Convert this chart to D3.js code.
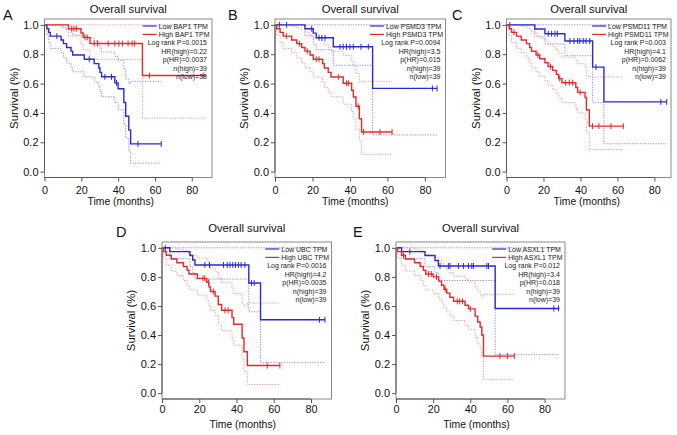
<!DOCTYPE html>
<html><head><meta charset="utf-8">
<script src="https://cdn.jsdelivr.net/npm/d3@7"></script>
<style>body{margin:0;background:#fff} svg{display:block} text{font-family:"Liberation Sans",Arial,Helvetica,sans-serif}</style>
</head><body><svg id="c" width="677" height="435"></svg>
<script>
// ---------- DATA ----------
const panelLetters = ["A","B","C","D","E"];
const geneNames = ["BAP1","PSMD3","PSMD11","UBC","ASXL1"];
const logRankP = ["0.0015","0.0094","0.003","0.0016","0.012"];
const hrHigh = ["0.22","3.5","4.1","4.2","3.4"];
const pHR = ["0.0037","0.015","0.0062","0.0035","0.018"];
const nHigh = [39,39,39,39,39];
const nLow = [39,39,39,39,39];
const xTicks = [0,20,40,60,80];
const yTicks = [0,0.2,0.4,0.6,0.8,1.0];

// step rows: [time, survival, lower CI, upper CI]
const lowBAP1 = [[1.3,0.974,0.93,1],[2.3,0.949,0.88,1],[3.1,0.923,0.84,1],[9,0.897,0.81,0.99],[10.3,0.872,0.775,0.98],[12,0.846,0.74,0.965],[14.4,0.821,0.71,0.95],[15.3,0.795,0.68,0.93],[21.6,0.766,0.645,0.91],[27,0.736,0.61,0.89],[29.5,0.706,0.575,0.865],[30.1,0.676,0.545,0.84],[31,0.646,0.51,0.815],[38.2,0.605,0.47,0.785],[40,0.565,0.42,0.755],[43.1,0.471,0.32,0.695],[44.1,0.377,0.23,0.63],[45.8,0.283,0.14,0.6],[46.8,0.189,0.058,0.615]];
const lowBAP1Censor = [6.7,24.3,32.8,36.4,39.1,50.8,63.4];
const lowBAP1End = 63.4;
const highBAP1 = [[13,0.974,0.925,1],[19.8,0.945,0.87,1],[21,0.915,0.83,1],[24.7,0.873,0.765,1],[53.2,0.655,0.365,1]];
const highBAP1Censor = [14.8,16,17.3,22,23.2,27,28.8,34.6,38.2,40.4,42.3,45.4,47.6,49,57,86.5];
const highBAP1End = 87.7;

const lowPSMD3 = [[16,0.974,0.925,1],[20.4,0.944,0.87,1],[22,0.912,0.83,1],[31.1,0.851,0.725,1],[52.1,0.567,0.25,1]];
const lowPSMD3Censor = [2.3,6.2,19.6,23.5,25,26.7,34.7,36.4,38.2,40,41.8,45.9,49.8,84,86.5];
const lowPSMD3End = 86.5;
const highPSMD3 = [[0.9,0.974,0.93,1],[2.7,0.949,0.88,1],[4.4,0.923,0.84,1],[8.9,0.897,0.81,0.99],[11.6,0.872,0.775,0.98],[14.2,0.846,0.74,0.965],[16,0.821,0.71,0.95],[18.7,0.795,0.68,0.93],[20.4,0.766,0.645,0.91],[25.4,0.736,0.61,0.89],[26.3,0.706,0.575,0.865],[28.4,0.676,0.54,0.845],[29.9,0.645,0.51,0.82],[36.4,0.602,0.46,0.79],[40.9,0.555,0.41,0.755],[41.8,0.509,0.36,0.72],[43.2,0.445,0.29,0.67],[45,0.36,0.21,0.61],[46.2,0.27,0.118,0.615]];
const highPSMD3Censor = [6,13,17.2,22,23.5,33.8,38.2,39.2,44.4,47.3,56,62.5];
const highPSMD3End = 62.5;

const lowPSMD11 = [[15.3,0.972,0.92,1],[20.8,0.94,0.87,1],[31.6,0.89,0.79,1],[46.6,0.712,0.47,1],[52.7,0.475,0.19,1]];
const lowPSMD11Censor = [1.8,22.6,24.4,26.2,27.5,34.3,36.5,38.5,39.7,41.5,43,45,48.4,83.5,86.7];
const lowPSMD11End = 86.7;
const highPSMD11 = [[1.4,0.974,0.93,1],[2.7,0.949,0.88,1],[5.4,0.923,0.84,1],[8,0.897,0.81,0.99],[10.8,0.872,0.775,0.98],[12.5,0.846,0.74,0.965],[13.5,0.82,0.71,0.95],[16,0.795,0.68,0.93],[18,0.769,0.65,0.91],[20.8,0.742,0.62,0.89],[22.5,0.716,0.59,0.87],[25,0.69,0.56,0.85],[27,0.662,0.53,0.83],[28.2,0.634,0.5,0.805],[30,0.606,0.47,0.78],[37.5,0.573,0.43,0.76],[38.5,0.54,0.4,0.735],[42.5,0.505,0.36,0.71],[43.2,0.42,0.27,0.65],[44.8,0.31,0.15,0.645]];
const highPSMD11Censor = [4,17,23.8,28.8,32,34,35.8,39.8,46.5,50,56.5,63.2];
const highPSMD11End = 63.2;

const lowUBC = [[4.2,0.974,0.925,1],[15,0.947,0.87,1],[16.5,0.916,0.83,1],[17.7,0.882,0.785,1],[46.6,0.758,0.56,1],[52.9,0.505,0.21,1]];
const lowUBCCensor = [1.8,23,25.5,33,35,36.5,38,39.5,41,42.5,44.5,48,49.5,84.5,87.5];
const lowUBCEnd = 87.5;
const highUBC = [[0.9,0.974,0.93,1],[2.3,0.949,0.88,1],[5,0.923,0.84,1],[8,0.897,0.81,0.99],[11.5,0.871,0.775,0.98],[13.5,0.846,0.74,0.965],[14.5,0.82,0.71,0.95],[19,0.79,0.675,0.93],[24,0.762,0.64,0.905],[25.2,0.731,0.605,0.885],[26,0.7,0.57,0.86],[28.5,0.668,0.535,0.835],[30.2,0.61,0.47,0.79],[32,0.57,0.43,0.76],[37.6,0.52,0.375,0.72],[38.5,0.474,0.33,0.685],[43,0.38,0.235,0.62],[44,0.285,0.15,0.6],[45.8,0.19,0.06,0.62]];
const highUBCCensor = [22,23,25,27.5,33.8,35.5,56.5,63.3];
const highUBCEnd = 63.3;

const lowASXL1 = [[3,0.974,0.925,1],[15.6,0.947,0.87,1],[21,0.913,0.83,1],[22.8,0.875,0.775,1],[53.4,0.583,0.265,1]];
const lowASXL1Censor = [7.5,23.7,28.2,29.1,33.6,36.3,39,40.8,41.7,48.9,49.8,85,87.5];
const lowASXL1End = 88;
const highASXL1 = [[0.9,0.974,0.93,1],[3,0.949,0.88,1],[5,0.923,0.84,1],[10,0.897,0.81,0.99],[13,0.871,0.775,0.98],[14.7,0.846,0.74,0.965],[16,0.82,0.71,0.95],[20,0.8,0.685,0.935],[23,0.771,0.65,0.915],[24.5,0.743,0.62,0.89],[25.8,0.715,0.59,0.87],[27.3,0.688,0.56,0.85],[29,0.66,0.53,0.83],[31,0.632,0.5,0.805],[37.2,0.605,0.465,0.785],[39,0.58,0.44,0.765],[42.6,0.53,0.385,0.73],[44,0.49,0.34,0.7],[45.3,0.455,0.305,0.68],[46.2,0.4,0.25,0.66],[47.1,0.255,0.095,0.68]];
const highASXL1Censor = [4,17.5,19,21.8,26.5,33,34.3,35.8,40,56,60,63.7];
const highASXL1End = 63.7;

const lowGroups = [[lowBAP1,lowBAP1Censor,lowBAP1End],[lowPSMD3,lowPSMD3Censor,lowPSMD3End],[lowPSMD11,lowPSMD11Censor,lowPSMD11End],[lowUBC,lowUBCCensor,lowUBCEnd],[lowASXL1,lowASXL1Censor,lowASXL1End]];
const highGroups = [[highBAP1,highBAP1Censor,highBAP1End],[highPSMD3,highPSMD3Censor,highPSMD3End],[highPSMD11,highPSMD11Censor,highPSMD11End],[highUBC,highUBCCensor,highUBCEnd],[highASXL1,highASXL1Censor,highASXL1End]];

// ---------- LAYOUT ----------
const layout = [
  {letter:[3,20],   box:[44.5,19,212,177.5], xMax:91, titleDy:-6.5, tickPad:4.5, xlabDy:27.7, xlabDx:-7.5},
  {letter:[228,20], box:[275,19,445.5,177.5], xMax:91, titleDy:-6.5, tickPad:4.5, xlabDy:27.7, xlabDx:-5},
  {letter:[452,20], box:[506.5,19,671,177.5], xMax:89, titleDy:-6.5, tickPad:4.5, xlabDy:27.7, xlabDx:-2},
  {letter:[116,237],box:[162,242,331.5,399], xMax:91, titleDy:-10, tickPad:2.8, xlabDy:28.7, xlabDx:-4},
  {letter:[353,237],box:[396,242,565,399], xMax:91, titleDy:-10, tickPad:2.8, xlabDy:28.7, xlabDx:-4}
];
const BLUE = "#2a2ad2", RED = "#e22b2b", BLUE_CI = "#9090ea", RED_CI = "#f39a9a";
const svg = d3.select("#c");

layout.forEach((L, i) => {
  const [l, t, r, b] = L.box;
  const x = d3.scaleLinear().domain([0, L.xMax]).range([l, r]);
  const y = d3.scaleLinear().domain([-0.04, 1.04]).range([b, t]);
  const g = svg.append("g");

  // panel letter & title
  g.append("text").attr("x", L.letter[0]).attr("y", L.letter[1]).attr("font-size", 14.5).attr("fill", "#111").text(panelLetters[i]);
  g.append("text").attr("x", (l + r) / 2).attr("y", t + L.titleDy).attr("text-anchor", "middle").attr("font-size", 11.3).attr("fill", "#111").text("Overall survival");

  // curves
  const stepLine = d3.line().x(d => x(d[0])).y(d => y(d[1])).curve(d3.curveStepAfter);
  function drawGroup(grp, col, ciCol) {
    const [rows, cens, end] = grp;
    const last = rows[rows.length - 1];
    [2, 3].forEach(k => {
      const pts = [[0, 1]].concat(rows.map(rw => [rw[0], rw[k]])).concat([[end, last[k]]]);
      g.append("path").attr("d", stepLine(pts)).attr("fill", "none").attr("stroke", ciCol).attr("stroke-width", 1).attr("stroke-dasharray", "1.3,1.3");
    });
    return () => {
      const pts = [[0, 1]].concat(rows.map(rw => [rw[0], rw[1]])).concat([[end, last[1]]]);
      g.append("path").attr("d", stepLine(pts)).attr("fill", "none").attr("stroke", col).attr("stroke-width", 1.4);
      cens.forEach(c => {
        let s = 1;
        rows.forEach(rw => { if (rw[0] <= c) s = rw[1]; });
        g.append("line").attr("x1", x(c)).attr("x2", x(c)).attr("y1", y(s) - 3).attr("y2", y(s) + 3).attr("stroke", col).attr("stroke-width", 1);
      });
    };
  }
  const drawLow = drawGroup(lowGroups[i], BLUE, BLUE_CI);
  const drawHigh = drawGroup(highGroups[i], RED, RED_CI);
  drawLow(); drawHigh();

  // frame
  g.append("rect").attr("x", l).attr("y", t).attr("width", r - l).attr("height", b - t).attr("fill", "none").attr("stroke", "#8a8a8a").attr("stroke-width", 1);

  // axes
  const ax = g.append("g").attr("transform", `translate(0,${b})`).call(d3.axisBottom(x).tickValues(xTicks).tickSize(4).tickPadding(L.tickPad).tickFormat(d3.format("d")));
  const ay = g.append("g").attr("transform", `translate(${l},0)`).call(d3.axisLeft(y).tickValues(yTicks).tickSize(4).tickPadding(2).tickFormat(d3.format(".1f")));
  [ax, ay].forEach((a, k) => {
    a.select(".domain").remove();
    a.selectAll("line").attr("stroke", "#555");
    a.selectAll("text").attr("font-size", k ? 11 : 10.8).attr("fill", "#111").style("font-family", '"Liberation Sans",Arial,sans-serif');
  });
  g.append("line").attr("x1", x(0)).attr("x2", x(80)).attr("y1", b).attr("y2", b).attr("stroke", "#555");
  g.append("line").attr("x1", l).attr("x2", l).attr("y1", y(0)).attr("y2", y(1)).attr("stroke", "#555");

  // axis titles
  g.append("text").attr("x", (l + r) / 2 + L.xlabDx).attr("y", b + L.xlabDy).attr("text-anchor", "middle").attr("font-size", 10.4).attr("fill", "#111").text("Time (months)");
  g.append("text").attr("transform", `translate(${l - 27},${(t + b) / 2}) rotate(-90)`).attr("text-anchor", "middle").attr("font-size", 11.4).attr("fill", "#111").text("Survival (%)");

  // legend
  const fs = 7, lh = 8.4;
  const lg = g.append("g").attr("font-size", fs).attr("fill", "#222");
  const labels = ["Low " + geneNames[i] + " TPM", "High " + geneNames[i] + " TPM"];
  const tmp = labels.map(s => { const tt = lg.append("text").text(s); const w = tt.node().getComputedTextLength(); tt.remove(); return w; });
  const textX = r - 2.5 - Math.max(...tmp);
  labels.forEach((s, k) => {
    const cy = t + 7 + k * lh;
    lg.append("line").attr("x1", textX - 16).attr("x2", textX - 2).attr("y1", cy).attr("y2", cy).attr("stroke", k ? RED : BLUE).attr("stroke-width", 1.2);
    lg.append("text").attr("x", textX).attr("y", cy + 2.5).text(s);
  });
  const stats = ["Log rank P=" + logRankP[i], "HR(high)=" + hrHigh[i], "p(HR)=" + pHR[i], "n(high)=" + nHigh[i], "n(low)=" + nLow[i]];
  stats.forEach((s, k) => {
    lg.append("text").attr("x", r - 5).attr("y", t + 7 + (k + 2) * lh + 2.5).attr("text-anchor", "end").text(s);
  });
});
</script></body></html>
